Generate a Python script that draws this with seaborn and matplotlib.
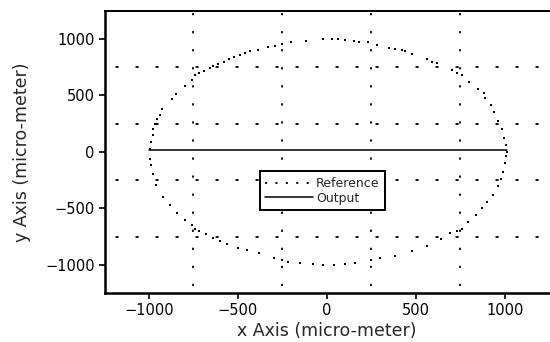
import matplotlib
matplotlib.use("Agg")
import matplotlib.pyplot as plt
import seaborn as sns
import pandas as pd
from matplotlib.lines import Line2D

# Reference points, going around the circle
ref_x = [-995, -990, -980, -975, -965, -955, -940, -925, -870, -850, -800, -760, -740, -720,
         -690, -660, -640, -610, -580, -550, -520, -490, -460, -430, -390, -330, -290, -250,
         -200, -120, -20,
         30, 60, 100, 150, 180, 230, 280, 350, 380, 420, 440, 480, 560, 590, 620, 700, 730,
         760, 800, 850, 880, 890, 920, 940, 960, 985, 995, 1005, 1010,
         1005, 1000, 990, 975, 960, 935, 900, 870, 840, 790, 760, 730, 690, 640, 560, 480,
         380, 300, 250, 160, 100, 40,
         -20, -80, -150, -220, -250, -300, -380, -450, -500, -560, -600, -640, -680, -720,
         -740, -760, -800, -840, -880, -920, -960, -980, -990, -995]
ref_y = [30, 90, 150, 200, 250, 290, 330, 380, 470, 510, 580, 640, 680, 700,
         720, 740, 760, 780, 800, 820, 840, 860, 880, 890, 900, 930, 940, 960,
         975, 985, 1000,
         1000, 1000, 990, 985, 975, 970, 950, 925, 915, 900, 890, 870, 820, 800, 790, 730, 700,
         680, 620, 560, 520, 480, 420, 350, 270, 200, 120, 60, 0,
         -40, -100, -180, -240, -300, -380, -440, -500, -560, -620, -680, -700, -720, -770,
         -830, -880, -920, -940, -960, -980, -990, -1000,
         -1000, -990, -985, -975, -960, -940, -900, -870, -850, -820, -790, -760, -730, -700,
         -680, -650, -600, -540, -470, -400, -290, -200, -120, -60]

out_x = [-1000, 1010]
out_y = [20, 20]

xticks = [-1000, -500, 0, 500, 1000]
yticks = [-1000, -500, 0, 500, 1000]
grid_pos = [-750, -250, 250, 750]

sns.set_style("white")
plt.rcParams['font.family'] = ['DejaVu Sans']
plt.rcParams['lines.scale_dashes'] = False

fig = plt.figure(figsize=(5.5, 3.42), dpi=100)
ax = fig.add_axes([0.19, 0.1433, 0.809, 0.825])

ref_df = pd.DataFrame({"x": ref_x, "y": ref_y})
out_df = pd.DataFrame({"x": out_x, "y": out_y})

for g in grid_pos:
    ax.axhline(g, color="black", lw=1.3, ls=(6.8, (2.2, 12.2)), zorder=0)
    ax.axvline(g, color="black", lw=1.3, ls=(8, (1.6, 11.4)), zorder=0)

sns.scatterplot(data=ref_df, x="x", y="y", ax=ax, color="black", s=3, marker="s",
                linewidth=0, legend=False)
sns.lineplot(data=out_df, x="x", y="y", ax=ax, color="black", lw=1.1, sort=False)

ax.set_xlim(-1250, 1250)
ax.set_ylim(-1250, 1250)
ax.set_xticks(xticks)
ax.set_yticks(yticks)
ax.tick_params(direction="out", length=4, width=1.2, labelsize=10.5, pad=3,
               bottom=True, left=True, colors="black")
ax.set_xlabel("x Axis (micro-meter)", fontsize=12.5, labelpad=3)
ax.set_ylabel("y Axis (micro-meter)", fontsize=12.5, labelpad=10)

for s in ["left", "bottom"]:
    ax.spines[s].set_linewidth(1.8)
    ax.spines[s].set_color("black")
ax.spines["top"].set_linewidth(1.4)
ax.spines["top"].set_color("black")
ax.spines["right"].set_visible(False)

handles = [Line2D([], [], color="black", lw=1.3, ls=(0, (1.5, 6))),
           Line2D([], [], color="black", lw=1.1)]
leg = ax.legend(handles, ["Reference", "Output"], loc="center",
                bbox_to_anchor=(0.49, 0.362), fontsize=9, frameon=True,
                fancybox=False, edgecolor="black", handlelength=3.8,
                borderpad=0.45, labelspacing=0.15, handletextpad=0.25,
                borderaxespad=0)
leg.get_frame().set_linewidth(1.4)
leg.get_frame().set_alpha(1)

fig.savefig("out.png", dpi=100)
